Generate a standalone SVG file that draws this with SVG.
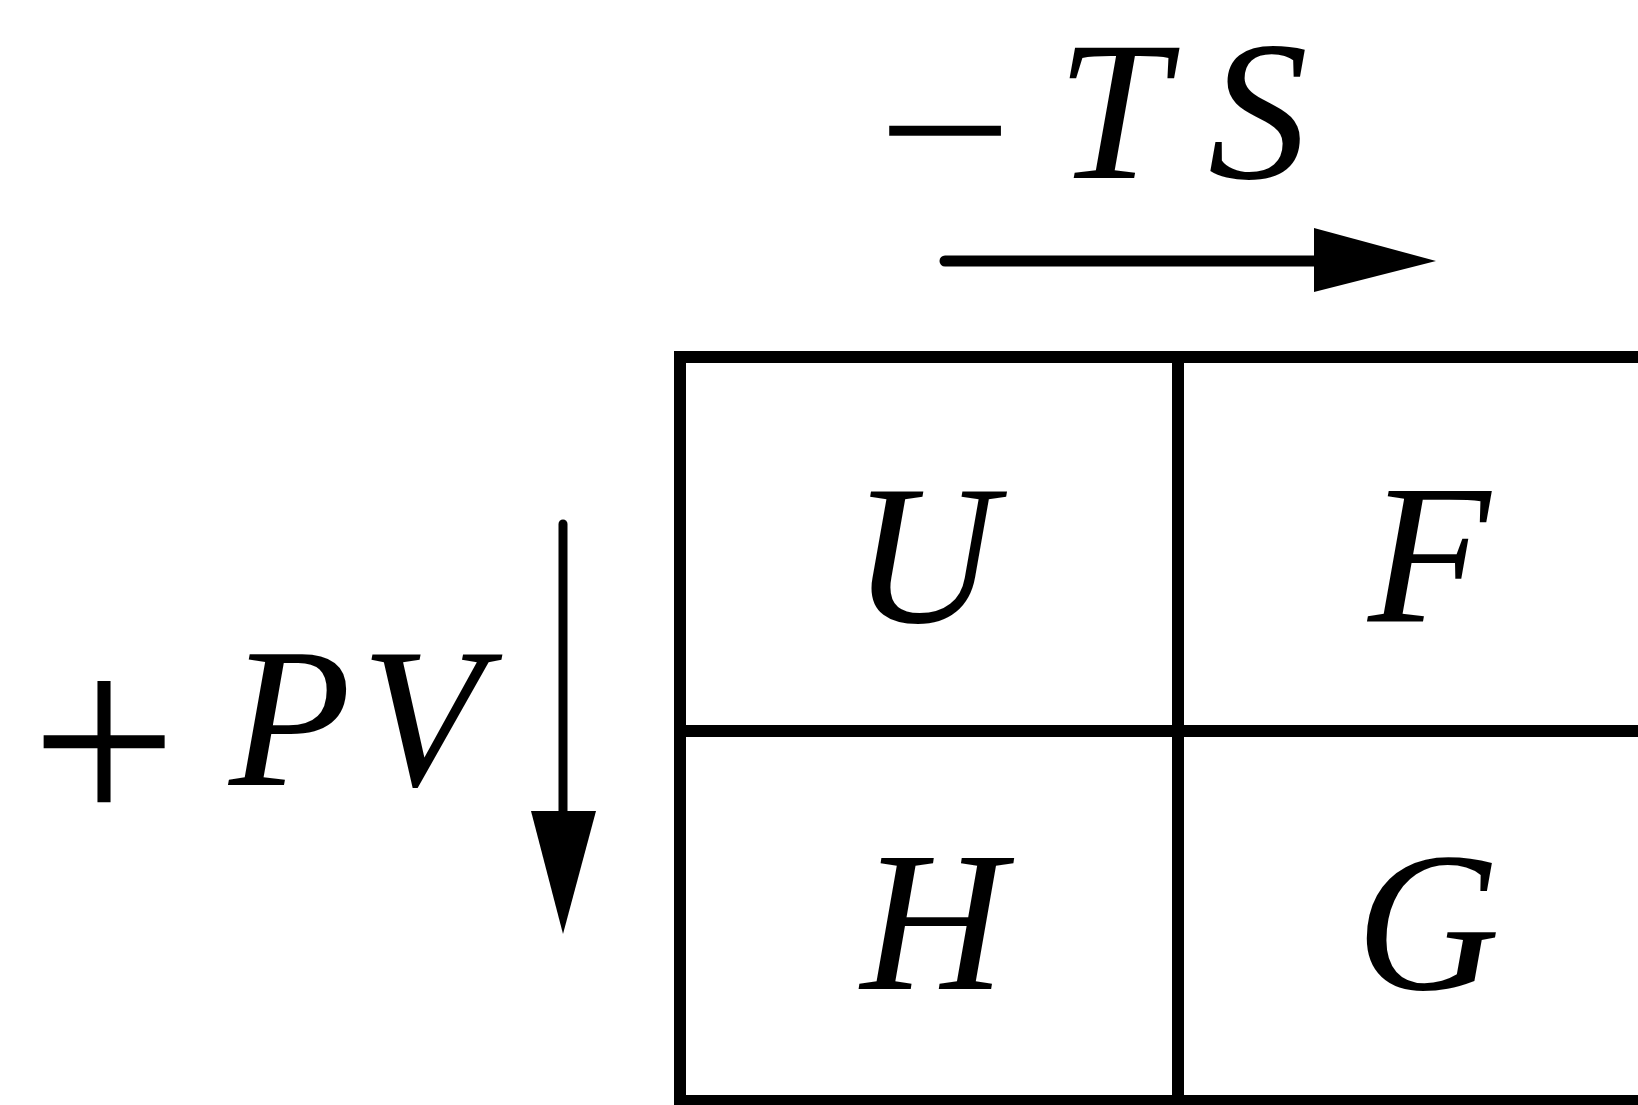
<svg xmlns="http://www.w3.org/2000/svg" width="1638" height="1105" viewBox="0 0 1638 1105">
<style>
.m{font-family:"Liberation Serif","Times New Roman",serif;font-style:italic;font-size:200px;fill:#000;text-anchor:middle}
.o{font-family:"Liberation Serif","Times New Roman",serif;font-size:200px;fill:#000;text-anchor:middle}
.ln{stroke:#000;stroke-width:12;fill:none}
</style>
<rect width="1638" height="1105" fill="#fff"/>
<g id="table">
<line class="ln" x1="674" y1="357" x2="1638" y2="357"/>
<line class="ln" x1="680" y1="351" x2="680" y2="1105"/>
<line class="ln" x1="1178" y1="357" x2="1178" y2="1105"/>
<line class="ln" x1="680" y1="731" x2="1638" y2="731"/>
<line class="ln" x1="680" y1="1101" x2="1638" y2="1101"/>
</g>
<g id="cell-U"><text class="m" x="924" y="622">U</text></g>
<g id="cell-F"><text class="m" x="1429" y="622">F</text></g>
<g id="cell-H"><text class="m" x="933" y="989">H</text></g>
<g id="cell-G"><text class="m" x="1428" y="989">G</text></g>
<g id="label-TS">
<text class="o" transform="translate(945,197) scale(1.2,1)" x="0" y="0">−</text>
<text class="m" x="1112" y="178">T</text>
<text class="m" x="1258" y="178">S</text>
</g>
<g id="label-PV">
<text class="o" transform="translate(104,828) scale(1.3,1.3)" x="0" y="0">+</text>
<text class="m" x="290" y="785">P</text>
<text class="m" x="422" y="785">V</text>
</g>
<g id="connectors">
<line x1="945" y1="261" x2="1320" y2="261" stroke="#000" stroke-width="11" stroke-linecap="round"/>
<polygon points="1314,228 1436,261 1314,292"/>
<line x1="563" y1="524" x2="563" y2="815" stroke="#000" stroke-width="9" stroke-linecap="round"/>
<polygon points="531,811 596,811 563,934"/>
</g>
</svg>
